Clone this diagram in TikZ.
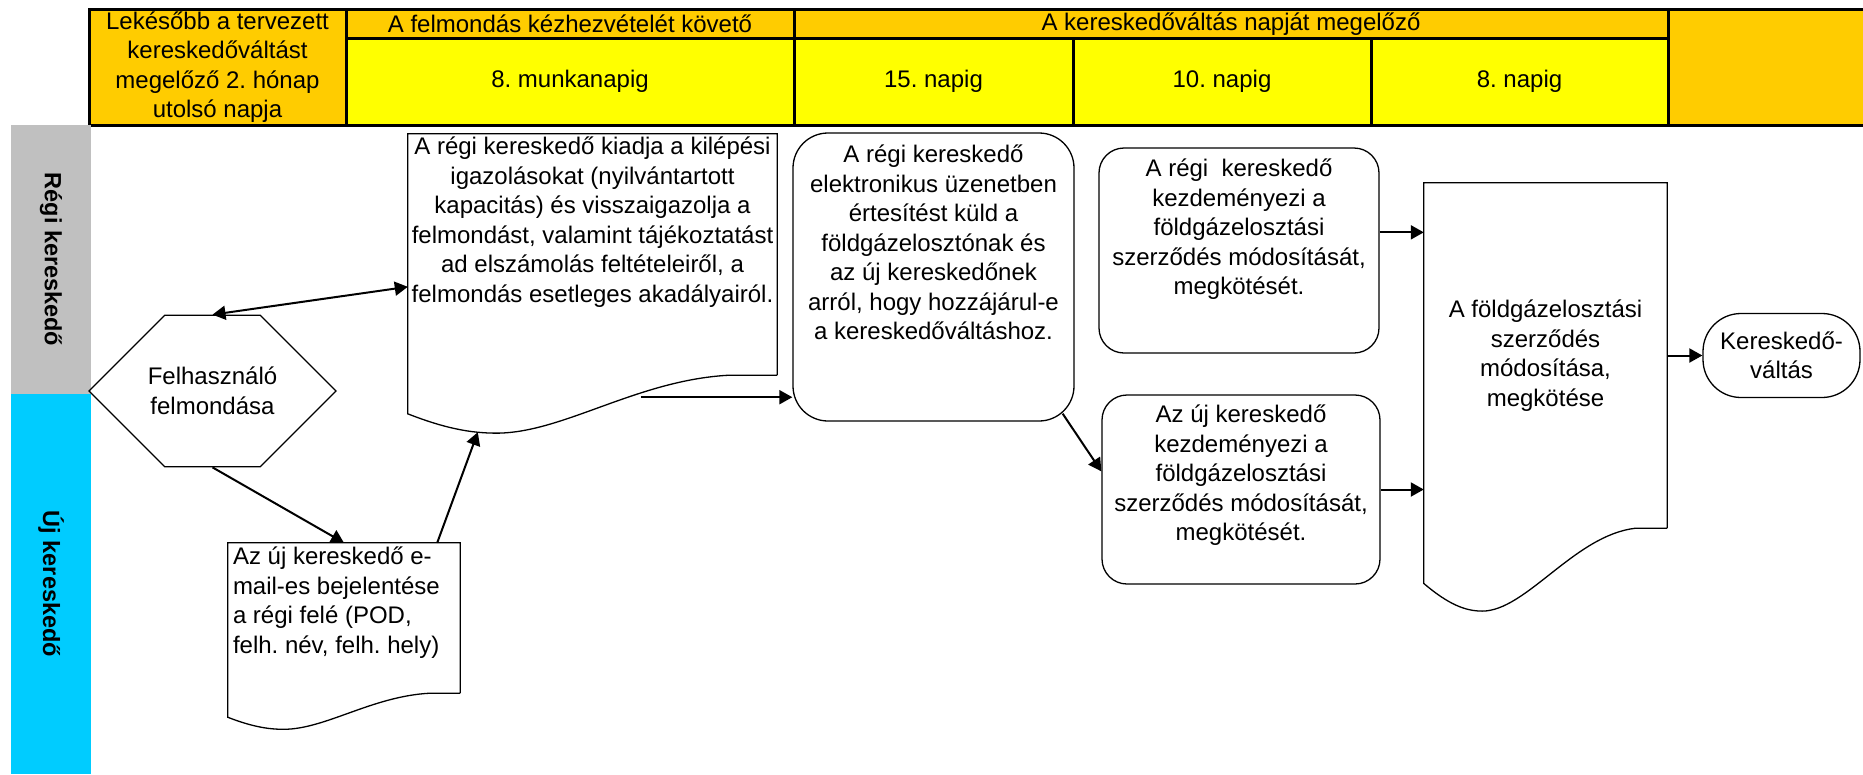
\documentclass[tikz,border=0pt]{standalone}
\usepackage{fontspec}
\setmainfont{Liberation Sans}
\usetikzlibrary{shapes.misc,positioning,calc,arrows.meta}
\definecolor{headorange}{HTML}{FFCC00}
\definecolor{headyellow}{HTML}{FFFF00}
\definecolor{lanegray}{HTML}{C0C0C0}
\definecolor{lanecyan}{HTML}{00CCFF}
\frenchspacing
\tikzset{%
  cell/.style={
    draw,
    line width=3pt,
    inner sep=0pt,
    align=center
  },
  lane/.style={
    rotate=-90,
    inner sep=0pt,
    minimum height=80pt,
    font=\fontsize{23.5}{28}\selectfont\bfseries
  },
  hexa/.style={
    chamfered rectangle,
    chamfered rectangle xsep=49pt,
    chamfered rectangle ysep=52pt,
    draw,
    line width=1.3pt,
    inner sep=0pt,
    align=center
  },
  process/.style={
    draw,
    line width=1.3pt,
    rounded corners=25pt,
    inner sep=0pt,
    align=center
  },
  docbox/.style={
    draw=none,
    inner sep=0pt,
    align=center
  },
  docline/.style={draw, line width=1.3pt},
  boxtext/.style={inner sep=0pt, align=center},
  flow/.style={line width=2pt},
  >={Triangle[length=13pt,width=14pt]},
}
% outline of a document shape with a wavy bottom
\newcommand{\docedge}[1]{%
  \draw[docline] let \p1=(#1.south west), \p2=(#1.north east),
      \n1={\x2-\x1}, \n2={\y2-\y1} in
    (#1.south east) -- (#1.north east) -- (#1.north west)
    -- (\x1,{\y1-0.16*\n2})
    .. controls ({\x1+0.1*\n1},{\y1-0.22*\n2}) and ({\x1+0.17*\n1},{\y1-0.24*\n2}) .. ({\x1+0.24*\n1},{\y1-0.24*\n2})
    .. controls ({\x1+0.42*\n1},{\y1-0.24*\n2}) and ({\x1+0.62*\n1},{\y1-0.02*\n2}) .. ({\x1+0.87*\n1},\y1)
    -- (#1.south east);
}

\begin{document}
\begin{tikzpicture}[x=1pt,y=-1pt,on grid,font=\fontsize{24}{29.5}\selectfont]
\useasboundingbox (0,0) rectangle (1863,774);
% header table
\node[cell, fill=headorange, minimum width=257pt, minimum height=115.5pt] (h0) at (217.5,67.25)
  {Lekésőbb a tervezett\\ kereskedőváltást\\ megelőző 2. hónap\\ utolsó napja};
\node[cell, fill=headorange, minimum width=448pt, minimum height=28.5pt] (t1) at (570,23.75) {A felmondás kézhezvételét követő};
\node[cell, fill=headyellow, minimum width=448pt, minimum height=87pt] (d1) at (570,81.5) {8. munkanapig};
\node[cell, fill=headorange, minimum width=874pt, minimum height=28.5pt] (t2) at (1231,23.75) {A kereskedőváltás napját megelőző};
\node[cell, fill=headyellow, minimum width=279pt, minimum height=87pt] (d2) at (933.5,81.5) {15. napig};
\node[cell, fill=headyellow, minimum width=298pt, minimum height=87pt] (d3) at (1222,81.5) {10. napig};
\node[cell, fill=headyellow, minimum width=297pt, minimum height=87pt] (d4) at (1519.5,81.5) {8. napig};
\node[cell, fill=headorange, minimum width=212pt, minimum height=115.5pt] (h5) at (1774,67.25) {};
% lanes
\node[lane, fill=lanegray, minimum width=269pt] (regi) at (51,259.5) {Régi kereskedő};
\node[lane, fill=lanecyan, minimum width=380pt] (uj) at (51,584) {Új kereskedő};
% steps
\node[hexa, minimum width=247pt, minimum height=104pt] (hex) at (212.5,391) {Felhasználó\\ felmondása};
\node[docbox, minimum width=369pt, minimum height=241pt] (docA) [above right=136.5pt and 380pt of hex] {};
\node[boxtext, anchor=north, yshift=-3pt] (docAtext) at (docA.north)
  {A régi kereskedő kiadja a kilépési\\ igazolásokat (nyilvántartott\\ kapacitás) és visszaigazolja a\\
   felmondást, valamint tájékoztatást\\ ad elszámolás feltételeiről, a\\ felmondás esetleges akadályairól.};
\node[docbox, minimum width=232pt, minimum height=150pt] (docB) [below right=227pt and 131.5pt of hex] {};
\node[boxtext, align=left, anchor=north west, xshift=5pt, yshift=-4pt] (docBtext) at (docB.north west)
  {Az új kereskedő e-\\ mail-es bejelentése\\ a régi felé (POD,\\ felh. név, felh. hely)};
\node[process, rounded corners=35pt, minimum width=281pt, minimum height=288pt] (R1) [below right=22.5pt and 341pt of docA] {};
\node[boxtext, anchor=north, yshift=-12.5pt] (R1text) at (R1.north)
  {A régi kereskedő\\ elektronikus üzenetben\\ értesítést küld a\\ földgázelosztónak és\\
   az új kereskedőnek\\ arról, hogy hozzájárul-e\\ a kereskedőváltáshoz.};
\node[process, minimum width=280pt, minimum height=205pt] (R2) [above right=26.5pt and 305.5pt of R1] {};
\node[boxtext, anchor=north, yshift=-11.5pt] (R2text) at (R2.north)
  {A régi~ kereskedő\\ kezdeményezi a\\ földgázelosztási\\ szerződés módosítását,\\ megkötését.};
\node[process, minimum width=278pt, minimum height=189pt] (R3) [below right=239pt and 2pt of R2] {};
\node[boxtext, anchor=north, yshift=-10.5pt] (R3text) at (R3.north)
  {Az új kereskedő\\ kezdeményezi a\\ földgázelosztási\\ szerződés módosítását,\\ megkötését.};
\node[docbox, minimum width=243pt, minimum height=345pt] (docC) [below right=105pt and 306.5pt of R2]
  {A földgázelosztási\\ szerződés\\ módosítása,\\ megkötése};
\node[process, rounded corners=38pt, minimum width=157pt, minimum height=84pt] (term) [right=236pt of docC] {Kereskedő-\\váltás};
\docedge{docA}
\docedge{docB}
\docedge{docC}
% connectors
\coordinate (docAleft) at ($(docA.north west)+(0,153)$);
\coordinate (docAin) at ($(docA.south west)+(70,57)$);
\coordinate (docAout) at ($(docA.south west)+(233,22)$);
\coordinate (docBout) at ($(docB.north east)+(-23,0)$);
\coordinate (R1out) at ($(R1.south east)+(-12,-8)$);
\coordinate (R3in) at ($(R3.north west)+(0,77)$);
\coordinate (R2out) at ($(R2.north east)+(0,85)$);
\path[flow]
  (hex.north) edge[<->] (docAleft)
  (hex.south) edge[->] (docB.north)
  (docBout) edge[->] (docAin)
  (docAout) edge[->] (docAout -| R1.west)
  (R1out) edge[->] (R3in)
  (R2out) edge[->] (R2out -| docC.west)
  (R3.east) edge[->] (R3.east -| docC.west)
  (docC.east) edge[->] (docC.east -| term.west);
\end{tikzpicture}
\end{document}
